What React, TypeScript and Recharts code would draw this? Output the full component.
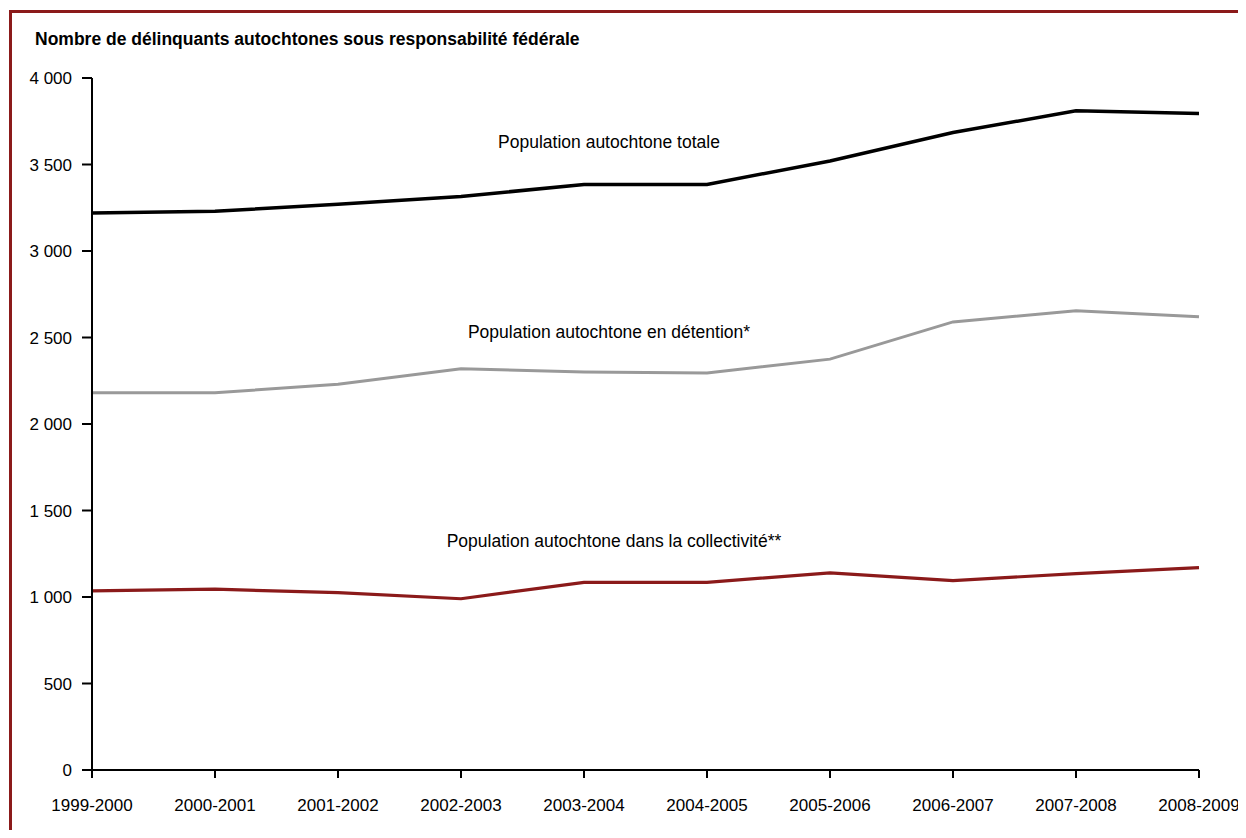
import React from "react";
import { LineChart, Line, XAxis, YAxis, ReferenceDot } from "recharts";

const years = [
  "1999-2000", "2000-2001", "2001-2002", "2002-2003", "2003-2004",
  "2004-2005", "2005-2006", "2006-2007", "2007-2008", "2008-2009",
];
const totale = [3220, 3230, 3270, 3315, 3385, 3385, 3520, 3685, 3810, 3795];
const detention = [2180, 2180, 2230, 2320, 2300, 2295, 2375, 2590, 2655, 2620];
const collectivite = [1035, 1045, 1025, 990, 1085, 1085, 1140, 1095, 1135, 1170];
const yTicks = [0, 500, 1000, 1500, 2000, 2500, 3000, 3500, 4000];

const title = "Nombre de délinquants autochtones sous responsabilité fédérale";
const labelTotale = "Population autochtone totale";
const labelDetention = "Population autochtone en détention*";
const labelCollectivite = "Population autochtone dans la collectivité**";

const data = years.map((y, i) => ({
  year: y,
  totale: totale[i],
  detention: detention[i],
  collectivite: collectivite[i],
}));

const RED = "#8b1a1a";
const FONT = "'Liberation Sans', Arial, sans-serif";

const fmt = (v: number) => String(v).replace(/\B(?=(\d{3})+(?!\d))/g, " ");

// annotation text placed next to a reference point
const note = (text: string, dx: number) => (props: any) => {
  const { viewBox } = props;
  return (
    <text x={viewBox.x + dx} y={viewBox.y} textAnchor="middle" dominantBaseline="central"
      fontSize={17.5} fill="#000" fontFamily={FONT}>
      {text}
    </text>
  );
};

export default function App() {
  return (
    <div style={{ position: "relative", width: 1238, height: 822, overflow: "hidden", background: "#fff" }}>
      <div style={{ position: "absolute", left: 1, top: 2, width: 1400, height: 1000,
        borderTop: `3px solid ${RED}`, borderLeft: `3px solid ${RED}` }} />
      <div style={{ position: "absolute", left: 27, top: 21, fontFamily: FONT, fontWeight: "bold",
        fontSize: 17.5, color: "#000", whiteSpace: "nowrap" }}>
        {title}
      </div>
      <div style={{ position: "absolute", left: 0, top: 0 }}>
        <LineChart width={1238} height={822} data={data}
          margin={{ top: 70, right: 47, left: 0, bottom: 0 }} style={{ overflow: "visible" }}>
          <XAxis dataKey="year" height={60} tickSize={8} tickMargin={21}
            axisLine={{ stroke: "#000", strokeWidth: 2 }} tickLine={{ stroke: "#000", strokeWidth: 2 }}
            tick={{ fontSize: 17, fill: "#000", fontFamily: FONT }} interval={0} />
          <YAxis width={84} domain={[0, 4000]} ticks={yTicks} tickFormatter={fmt} tickSize={10} tickMargin={10}
            axisLine={{ stroke: "#000", strokeWidth: 2 }} tickLine={{ stroke: "#000", strokeWidth: 2 }}
            tick={{ fontSize: 17, fill: "#000", fontFamily: FONT }} interval={0} />
          <Line dataKey="totale" stroke="#000" strokeWidth={3.5} dot={false} isAnimationActive={false} />
          <Line dataKey="detention" stroke="#999999" strokeWidth={3} dot={false} isAnimationActive={false} />
          <Line dataKey="collectivite" stroke={RED} strokeWidth={3.2} dot={false} isAnimationActive={false} />
          <ReferenceDot x="2003-2004" y={3630} r={0} label={note(labelTotale, 25)} />
          <ReferenceDot x="2003-2004" y={2532} r={0} label={note(labelDetention, 25)} />
          <ReferenceDot x="2003-2004" y={1324} r={0} label={note(labelCollectivite, 30)} />
        </LineChart>
      </div>
    </div>
  );
}
